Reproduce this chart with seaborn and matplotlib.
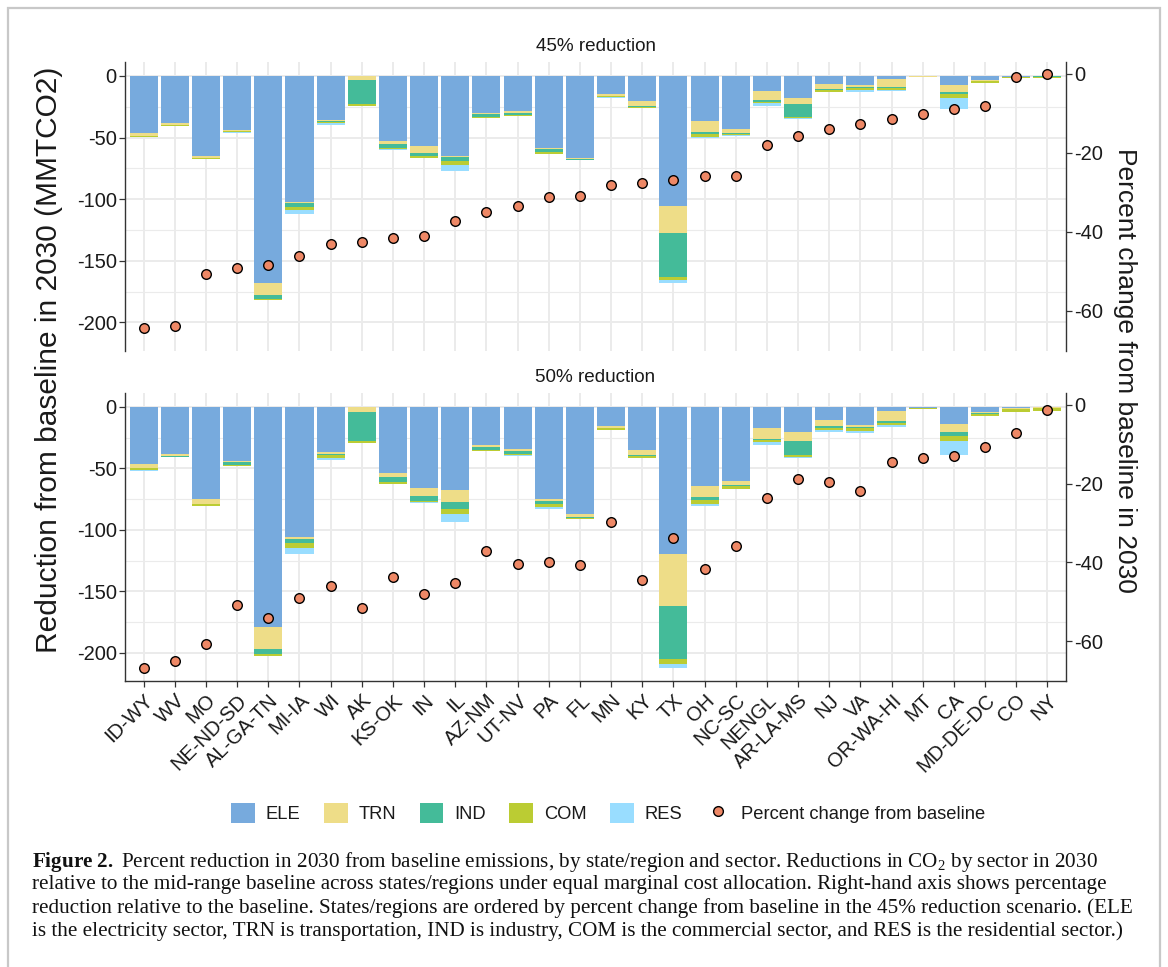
import numpy as np
import matplotlib
matplotlib.use("Agg")
import matplotlib.pyplot as plt
import seaborn as sns
from matplotlib.patches import Patch, Rectangle
from matplotlib.lines import Line2D
from matplotlib.ticker import MultipleLocator

# ---------------- data ----------------
regions = ["ID-WY", "WV", "MO", "NE-ND-SD", "AL-GA-TN", "MI-IA", "WI", "AK", "KS-OK", "IN",
           "IL", "AZ-NM", "UT-NV", "PA", "FL", "MN", "KY", "TX", "OH", "NC-SC",
           "NENGL", "AR-LA-MS", "NJ", "VA", "OR-WA-HI", "MT", "CA", "MD-DE-DC", "CO", "NY"]
sectors = ["ELE", "TRN", "IND", "COM", "RES"]
sector_colors = ["#77AADD", "#EEDD88", "#44BB99", "#BBCC33", "#99DDFF"]
point_color = "#EE8866"

# 45% reduction scenario (MMTCO2)
ele45 = [-46.0, -38.4, -65.0, -43.6, -168.3, -102.6, -35.7, -0.4, -52.8, -56.6,
         -65.0, -30.0, -28.1, -58.7, -66.3, -14.9, -20.3, -105.5, -36.5, -43.3,
         -11.9, -17.6, -6.2, -7.0, -2.4, -0.3, -7.6, -3.0, -0.8, -0.3]
trn45 = [-2.4, -1.2, -1.3, -0.8, -9.5, -0.8, -0.8, -2.6, -2.7, -5.7,
         -0.8, -0.8, -2.2, -0.8, -1.3, -1.1, -3.8, -22.2, -8.7, -2.7,
         -7.6, -5.4, -4.3, -1.9, -6.5, -0.2, -5.1, -1.1, -0.2, -0.1]
ind45 = [-0.3, -0.2, -0.2, -0.5, -3.0, -2.7, -1.2, -19.5, -3.2, -2.7,
         -3.2, -2.2, -1.1, -2.0, -0.2, -0.2, -0.8, -35.4, -2.2, -1.1,
         -1.4, -10.3, -0.8, -1.0, -1.1, -0.2, -2.2, -0.3, -0.2, -0.3]
com45 = [-0.9, -0.4, -0.5, -0.8, -1.0, -2.7, -0.8, -1.6, -0.8, -1.6,
         -3.2, -0.8, -1.1, -1.5, -0.4, -1.1, -0.8, -2.4, -1.9, -1.1,
         -1.4, -1.1, -1.6, -1.4, -1.4, -0.1, -3.2, -1.1, -0.5, -0.6]
res45 = [-0.2, -0.1, -0.1, -0.3, -0.3, -3.0, -1.3, -0.1, -0.3, -0.3,
         -4.9, -0.2, -0.2, -0.7, -0.2, -0.2, -0.2, -2.2, -1.4, -0.3,
         -1.9, -0.3, -0.3, -1.4, -0.8, -0.1, -8.4, -0.2, -0.3, -0.2]
pct45 = [-64.3, -63.8, -50.6, -49.1, -48.5, -46.0, -43.0, -42.5, -41.6, -41.0,
         -37.2, -35.0, -33.5, -31.2, -30.9, -28.1, -27.6, -26.8, -25.9, -25.9,
         -18.0, -15.7, -13.9, -12.6, -11.4, -10.1, -8.9, -8.1, -0.8, 0.0]

# 50% reduction scenario (MMTCO2)
ele50 = [-46.5, -38.4, -74.6, -44.3, -178.9, -106.0, -36.8, -0.4, -53.5, -65.7,
         -67.6, -31.1, -34.1, -74.9, -87.0, -15.4, -34.9, -119.5, -64.1, -60.5,
         -17.3, -20.0, -10.5, -14.6, -3.2, -0.5, -13.5, -3.8, -1.1, -0.3]
trn50 = [-3.2, -1.9, -4.3, -0.8, -18.4, -1.1, -1.4, -4.0, -3.2, -6.5,
         -10.0, -1.6, -1.6, -1.9, -2.5, -1.4, -4.3, -42.4, -9.5, -2.7,
         -8.6, -7.3, -4.9, -1.9, -8.1, -0.3, -6.8, -1.4, -0.2, -0.2]
ind50 = [-0.3, -0.2, -0.3, -1.9, -3.8, -3.8, -1.1, -23.2, -4.3, -4.1,
         -5.1, -2.4, -2.2, -2.2, -0.5, -0.3, -0.5, -43.2, -1.9, -1.1,
         -1.1, -12.2, -1.4, -0.8, -1.4, -0.3, -3.2, -0.3, -0.3, -0.5]
com50 = [-1.6, -0.3, -1.6, -1.1, -1.4, -3.8, -1.9, -1.9, -1.6, -1.4,
         -4.3, -0.6, -1.6, -2.7, -0.8, -1.6, -1.9, -4.1, -3.5, -2.2,
         -1.6, -1.4, -1.9, -1.9, -1.9, -0.3, -4.1, -1.6, -2.2, -2.2]
res50 = [-0.2, -0.1, -0.2, -0.3, -0.3, -4.9, -1.6, -0.1, -0.3, -0.8,
         -6.5, -0.2, -0.3, -1.1, -0.2, -0.1, -0.2, -3.2, -1.9, -0.3,
         -2.7, -0.3, -1.4, -2.2, -1.6, -0.1, -11.9, -0.3, -0.5, -0.3]
pct50 = [-66.9, -65.1, -60.8, -50.9, -54.1, -49.1, -45.9, -51.6, -43.7, -47.9,
         -45.2, -37.0, -40.3, -39.8, -40.7, -29.8, -44.4, -33.9, -41.6, -35.7,
         -23.7, -18.9, -19.5, -21.9, -14.5, -13.6, -13.0, -10.8, -7.1, -1.3]

panel_titles = ["45% reduction", "50% reduction"]
left_ticks = [0, -50, -100, -150, -200]
right_ticks = [0, -20, -40, -60]

# ---------------- style ----------------
sns.set_theme(style="white")
plt.rcParams["font.family"] = ["Liberation Sans", "DejaVu Sans"]
plt.rcParams["axes.unicode_minus"] = False
plt.rcParams["mathtext.fontset"] = "custom"
plt.rcParams["mathtext.rm"] = "Liberation Serif"
plt.rcParams["mathtext.it"] = "Liberation Serif:italic"
plt.rcParams["mathtext.bf"] = "Liberation Serif:bold"

W, H = 1168, 967
fig = plt.figure(figsize=(W / 100, H / 100), dpi=100)
fig.patch.set_facecolor("white")

AX_L, AX_R = 125, 1066
panels_px = [(61.7, 350.7), (392.7, 681.0)]

grid_col = "#EBEBEB"
spine_col = "#333333"
text_col = "#1A1A1A"
tick_fs = 14.5

n = len(regions)
xpos = np.arange(n)

datasets = [([ele45, trn45, ind45, com45, res45], pct45),
            ([ele50, trn50, ind50, com50, res50], pct50)]

for p, ((top, bot), (parts, pct)) in enumerate(zip(panels_px, datasets)):
    ax = fig.add_axes([AX_L / W, 1 - bot / H, (AX_R - AX_L) / W, (bot - top) / H])
    ax.set_facecolor("white")
    cum = np.cumsum(np.array(parts, dtype=float), axis=0)
    # overlapping cumulative bars => stacked look (ELE nearest zero, RES at the end)
    for k in reversed(range(len(sectors))):
        sns.barplot(x=regions, y=cum[k], order=regions, color=sector_colors[k],
                    width=0.9, saturation=1, errorbar=None, linewidth=0,
                    ax=ax, zorder=2)
    ax.set_xlim(-0.6, n - 0.4)
    ax.set_ylim(-223, 11.6)
    ax.set_yticks(left_ticks)
    ax.yaxis.set_minor_locator(MultipleLocator(25))
    ax.set_axisbelow(True)
    ax.grid(True, which="major", color=grid_col, lw=1.4)
    ax.grid(True, which="minor", axis="y", color=grid_col, lw=0.8)
    ax.set_xlabel("")
    ax.set_ylabel("")
    for s in ["top", "right"]:
        ax.spines[s].set_visible(False)
    ax.spines["left"].set_color(spine_col)
    ax.spines["left"].set_linewidth(1.0)
    ax.tick_params(axis="y", which="major", length=4, width=0.9, color=spine_col,
                   labelsize=tick_fs, labelcolor=text_col, pad=2, left=True)
    ax.tick_params(axis="y", which="minor", length=0)
    ax.set_xticks(xpos)
    if p == 0:
        ax.spines["bottom"].set_visible(False)
        ax.tick_params(axis="x", length=0, labelbottom=False)
    else:
        ax.spines["bottom"].set_color(spine_col)
        ax.spines["bottom"].set_linewidth(1.0)
        ax.set_xticklabels(regions, rotation=45, ha="right", va="top",
                           rotation_mode="anchor")
        ax.tick_params(axis="x", length=4, width=0.9, color=spine_col,
                       labelsize=tick_fs, labelcolor=text_col, pad=3, bottom=True)

    ax.text(0.5, 1 + 15 / (bot - top), panel_titles[p], transform=ax.transAxes,
            ha="center", va="center", fontsize=13.6, color=text_col)

    ax2 = ax.twinx()
    sns.scatterplot(x=xpos, y=pct, ax=ax2, color=point_color, edgecolor="black",
                    linewidth=1.0, s=48, zorder=5, legend=False)
    ax2.set_xlim(-0.6, n - 0.4)
    ax2.set_ylim(-70.1, 3.1)
    ax2.set_yticks(right_ticks)
    ax2.grid(False)
    ax2.set_ylabel("")
    for s in ["top", "left", "bottom"]:
        ax2.spines[s].set_visible(False)
    ax2.spines["right"].set_color(spine_col)
    ax2.spines["right"].set_linewidth(1.0)
    ax2.tick_params(axis="y", length=4, width=0.9, color=spine_col,
                    labelsize=tick_fs, labelcolor=text_col, pad=2, right=True)

# axis titles
fig.text(49 / W, 1 - 360 / H, "Reduction from baseline in 2030 (MMTCO2)", rotation=90,
         ha="center", va="center", fontsize=21.5, color=text_col)
fig.text(1125 / W, 1 - 370 / H, "Percent change from baseline in 2030", rotation=-90,
         ha="center", va="center", fontsize=19, color=text_col)

# legend
handles = [Patch(facecolor=c, edgecolor="none", label=s) for s, c in zip(sectors, sector_colors)]
handles.append(Line2D([], [], marker="o", linestyle="none", markerfacecolor=point_color,
                      markeredgecolor="black", markeredgewidth=1.0, markersize=7,
                      label="Percent change from baseline"))
fig.legend(handles=handles, loc="center", bbox_to_anchor=(608 / W, 1 - 813 / H), ncol=6,
           frameon=False, fontsize=13.2, handlelength=1.3, handleheight=1.3,
           handletextpad=0.6, columnspacing=1.27, labelcolor=text_col)

# caption
cap_lines = [
    r"$\mathbf{Figure\ 2.}$ Percent reduction in 2030 from baseline emissions, by state/region and sector. Reductions in CO$_{2}$ by sector in 2030",
    "relative to the mid-range baseline across states/regions under equal marginal cost allocation. Right-hand axis shows percentage",
    "reduction relative to the baseline. States/regions are ordered by percent change from baseline in the 45% reduction scenario. (ELE",
    "is the electricity sector, TRN is transportation, IND is industry, COM is the commercial sector, and RES is the residential sector.)",
]
cap_y = [862, 885, 908, 931]
for line, yy in zip(cap_lines, cap_y):
    fig.text(32 / W, 1 - yy / H, line, ha="left", va="center", fontsize=15.2,
             family="Liberation Serif", color="#111111")

# thin frame around figure
fig.patches.append(Rectangle((8 / W, -0.05), (1160 - 8) / W, 1.05 - 8 / H,
                             transform=fig.transFigure, fill=False,
                             edgecolor="#C8C8C8", lw=1.6))

fig.savefig("out.png", dpi=100, facecolor="white")
